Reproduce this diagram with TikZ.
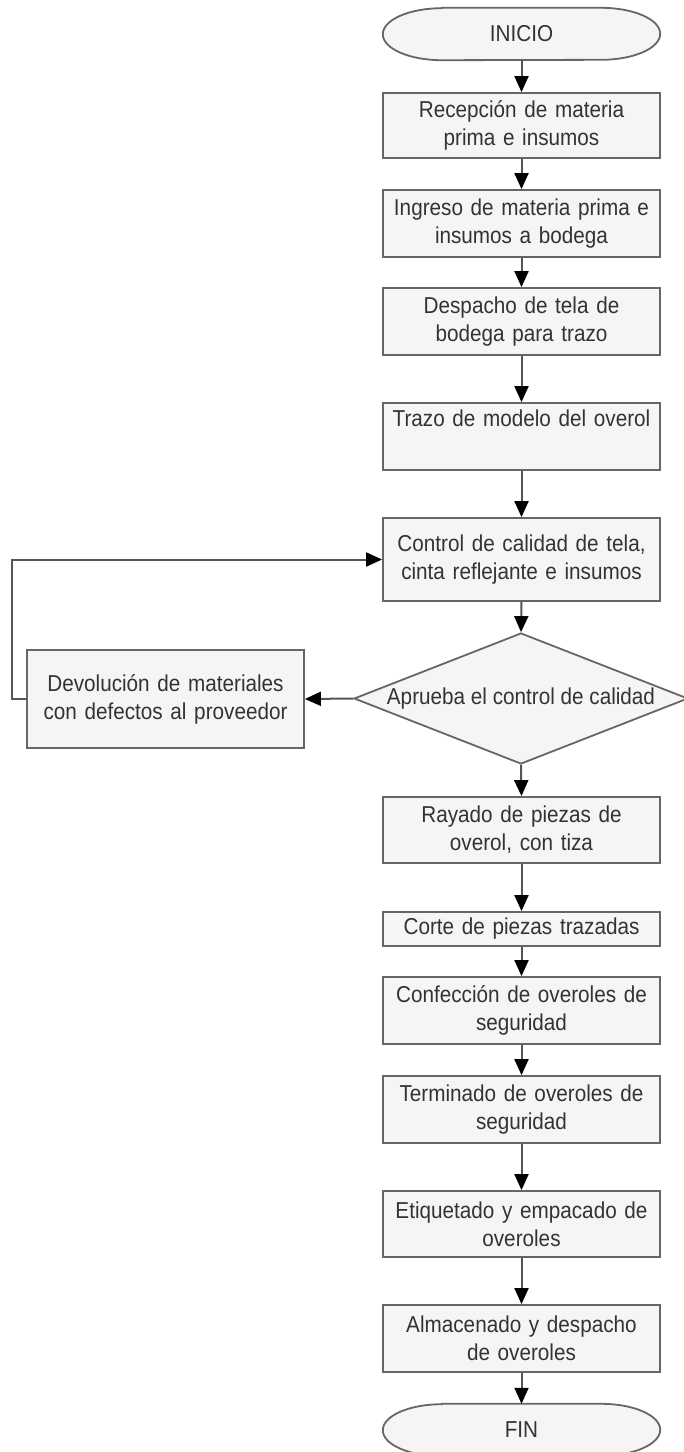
\documentclass[tikz,border=0pt]{standalone}
\usepackage{fontspec}
\setmainfont{Liberation Sans}[FakeStretch=0.9]
\usetikzlibrary{shapes.geometric,arrows.meta}
\definecolor{boxfill}{HTML}{F5F5F5}
\definecolor{boxline}{HTML}{666666}
\definecolor{txt}{HTML}{333333}
\definecolor{conn}{HTML}{555555}
\tikzset{
  base/.style={font=\fontsize{23}{28}\selectfont, text=txt, align=center, inner sep=0pt},
  procbox/.style={base, rectangle, draw=boxline, fill=boxfill, line width=1.8pt, minimum width=277pt, text width=270pt},
  termtext/.style={base, rectangle, minimum width=277pt, minimum height=52pt},
  termshape/.style={draw=boxline, fill=boxfill, line width=1.8pt},
  decis/.style={base, diamond, draw=boxline, fill=boxfill, line width=1.8pt, shape aspect=2.55, minimum width=334pt, minimum height=131pt},
  arr/.style={draw=conn, line width=2pt, -{Triangle[width=14pt,length=16pt,black,fill=black]}}
}
\newcommand{\termoutline}[1]{%
  \path[termshape] ([xshift=59pt]#1.north west) -- ([xshift=-59pt]#1.north east)
    arc[start angle=90, end angle=-90, x radius=59pt, y radius=26pt]
    -- ([xshift=59pt]#1.south west)
    arc[start angle=270, end angle=90, x radius=59pt, y radius=26pt] -- cycle;}
\begin{document}
\begin{tikzpicture}[x=1pt,y=-1pt]
\useasboundingbox (0,0) rectangle (684,1452);
\node[termtext] (inicio) at (521.5,34) {};
\termoutline{inicio}
\node[base] at (inicio.center) {INICIO};
\node[procbox, minimum height=65pt] (rec) at (521.5,125.5) {Recepción de materia\\prima e insumos};
\node[procbox, minimum height=67pt] (ing) at (521.5,223.5) {Ingreso de materia prima e\\insumos a bodega};
\node[procbox, minimum height=67pt] (des) at (521.5,321.5) {Despacho de tela de\\bodega para trazo};
\node[procbox, minimum height=67pt] (tra) at (521.5,436.5) {Trazo de modelo del overol\\\strut};
\node[procbox, minimum height=83pt] (con) at (521.5,559.5) {Control de calidad de tela,\\cinta reflejante e insumos};
\node[decis] (dia) at (521,698.5) {Aprueba el control de calidad};
\node[procbox, minimum height=98pt] (dev) at (165.5,699) {Devolución de materiales\\con defectos al proveedor};
\node[procbox, minimum height=66pt] (ray) at (521.5,830) {Rayado de piezas de\\overol, con tiza};
\node[procbox, minimum height=34pt] (cor) at (521.5,929) {Corte de piezas trazadas};
\node[procbox, minimum height=67pt] (conf) at (521.5,1010.5) {Confección de overoles de\\seguridad};
\node[procbox, minimum height=67pt] (ter) at (521.5,1109.5) {Terminado de overoles de\\seguridad};
\node[procbox, minimum height=66pt] (eti) at (521.5,1224) {Etiquetado y empacado de\\overoles};
\node[procbox, minimum height=67pt] (alm) at (521.5,1338.5) {Almacenado y despacho\\de overoles};
\node[termtext] (fin) at (521.5,1430) {};
\termoutline{fin}
\node[base] at (fin.center) {FIN};
\draw[arr] (inicio.south) -- (rec.north);
\draw[arr] (rec.south) -- (ing.north);
\draw[arr] (ing.south) -- (des.north);
\draw[arr] (des.south) -- (tra.north);
\draw[arr] (tra.south) -- (con.north);
\draw[arr] (con.south) -- (dia.north);
\draw[arr] (dia.west) -- (dev.east);
\draw[arr] (dev.west) -- ++(-14,0) |- (con.west);
\draw[arr] (dia.south) -- (ray.north);
\draw[arr] (ray.south) -- (cor.north);
\draw[arr] (cor.south) -- (conf.north);
\draw[arr] (conf.south) -- (ter.north);
\draw[arr] (ter.south) -- (eti.north);
\draw[arr] (eti.south) -- (alm.north);
\draw[arr] (alm.south) -- (fin.north);
\end{tikzpicture}
\end{document}
